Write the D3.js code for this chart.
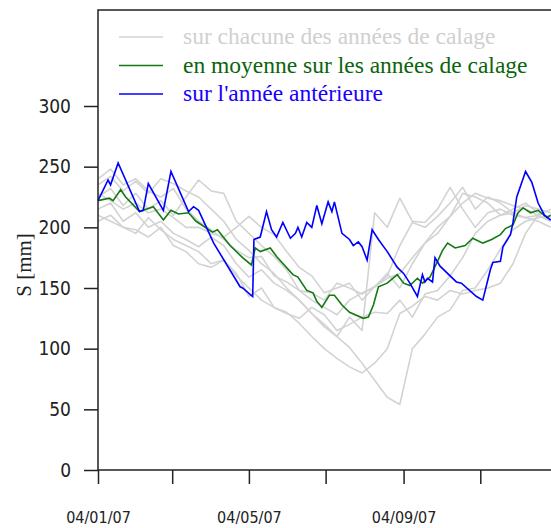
<!DOCTYPE html>
<html>
  <head>
    <meta charset="utf-8" />
    <title>S [mm]</title>
    <style>
      body { margin: 0; background: #fff; }
      svg { display: block; }
    </style>
  </head>
  <body>
    <svg width="551" height="528"></svg>

    <script src="https://d3js.org/d3.v7.min.js"></script>
    <script>
      // days counted from 04/01/07
      const greyDays = [0, 10, 20, 30, 40, 50, 60, 70, 80, 90, 100, 110, 120, 130, 140, 150, 160, 170, 180, 190,
        200, 210, 220, 230, 240, 250, 260, 270, 280, 290, 300, 310, 320, 330, 340, 350, 360];

      // one series per calibration year
      const grey1 = [235, 242, 230, 238, 228, 240, 236, 230, 225, 215, 205, 190, 181, 170, 162, 150, 140, 129, 118, 110,
        101, 88, 74, 60, 54, 100, 112, 126, 132, 148, 150, 165, 182, 198, 205, 208, 210];
      const grey2 = [225, 232, 218, 228, 215, 222, 210, 225, 239, 230, 228, 205, 195, 185, 176, 165, 148, 140, 134, 128,
        140, 146, 151, 158, 162, 175, 187, 200, 209, 220, 228, 224, 222, 218, 215, 210, 205];
      const grey3 = [215, 220, 205, 212, 200, 205, 195, 190, 184, 192, 185, 170, 159, 165, 154, 148, 140, 129, 120, 110,
        126, 115, 212, 200, 224, 205, 204, 215, 233, 215, 200, 212, 215, 210, 208, 205, 200];
      const grey4 = [210, 205, 200, 195, 208, 198, 190, 185, 180, 170, 173, 162, 143, 150, 134, 130, 121, 110, 100, 92,
        85, 80, 88, 100, 129, 135, 143, 140, 148, 145, 148, 150, 154, 170, 195, 210, 215];
      const grey5 = [240, 248, 235, 240, 230, 225, 232, 215, 205, 198, 190, 181, 175, 176, 160, 155, 148, 146, 140, 154,
        150, 145, 151, 162, 150, 170, 187, 195, 209, 228, 225, 220, 210, 215, 220, 212, 208];
      const grey6 = [205, 210, 200, 198, 192, 200, 185, 180, 170, 167, 173, 160, 150, 140, 134, 129, 125, 134, 128, 115,
        120, 126, 130, 129, 140, 126, 145, 148, 160, 175, 195, 205, 210, 212, 218, 215, 212];
      const grey7 = [228, 222, 215, 220, 212, 215, 208, 200, 200, 195, 192, 200, 209, 200, 194, 180, 167, 160, 146, 150,
        154, 140, 151, 160, 185, 204, 200, 209, 220, 233, 215, 225, 220, 212, 208, 210, 205];

      // mean over the calibration years
      const greenDays = [0, 9, 12, 18, 22, 33, 44, 52, 58, 64, 72, 78, 91, 95, 105, 115, 122, 125, 129, 137,
        142, 155, 159, 166, 171, 174, 178, 184, 188, 194, 200, 211, 215, 219, 223, 230, 238, 243, 248, 254,
        258, 264, 270, 274, 278, 284, 292, 298, 306, 313, 320, 324, 330, 334, 338, 344, 350, 357, 360];
      const greenVals = [222, 224, 222, 231, 225, 213, 217, 206, 214, 211, 212, 205, 196, 198, 185, 175, 169, 183, 180, 183,
        176, 161, 159, 148, 146, 139, 134, 144, 144, 136, 130, 125, 126, 136, 151, 154, 161, 154, 152, 158,
        154, 159, 172, 181, 187, 183, 185, 191, 187, 190, 194, 199, 202, 212, 216, 212, 214, 208, 210];

      // previous year
      const blueDays = [0, 8, 10, 16, 33, 36, 40, 52, 58, 72, 76, 80, 92, 113, 115, 123, 124, 129, 134, 138,
        142, 147, 153, 157, 159, 162, 166, 170, 174, 178, 183, 186, 188, 194, 200, 203, 207, 210, 214, 218,
        223, 230, 238, 243, 248, 254, 258, 260, 262, 266, 268, 272, 285, 289, 301, 306, 312, 314, 320, 322,
        328, 330, 333, 340, 345, 350, 355, 360];
      const blueVals = [222, 239, 235, 253, 213, 214, 236, 214, 246, 213, 217, 214, 187, 151, 150, 143, 190, 192, 213, 198,
        192, 204, 191, 195, 200, 192, 204, 200, 218, 203, 221, 213, 221, 195, 190, 185, 188, 184, 173, 198,
        190, 180, 167, 162, 154, 143, 161, 155, 158, 155, 175, 168, 155, 154, 143, 140, 165, 171, 172, 184,
        194, 204, 225, 246, 237, 220, 210, 206];

      const yTicks = [0, 50, 100, 150, 200, 250, 300];
      const xTicks = ["2007-01-04", "2007-03-04", "2007-05-04", "2007-07-04", "2007-09-04", "2007-11-04", "2008-01-04"];
      const xLabelled = ["2007-01-04", "2007-05-04", "2007-09-04"];

      const legendItems = [
        { label: "sur chacune des années de calage", color: "#d3d3d3", text: "#d0d0d0" },
        { label: "en moyenne sur les années de calage", color: "#137a13", text: "#0b650b" },
        { label: "sur l'année antérieure", color: "#0000ff", text: "#1a00ff" }
      ];

      const svg = d3.select("svg");
      const start = new Date(2007, 0, 4);
      const day = d => d3.timeDay.offset(start, d);
      const parse = s => { const p = s.split("-"); return new Date(+p[0], +p[1] - 1, +p[2]); };

      const x = d3.scaleTime()
        .domain([start, new Date(2008, 0, 4)])
        .range([98, 557]);
      const y = d3.scaleLinear()
        .domain([0, 300])
        .range([470, 106]);

      const line = d3.line()
        .x(d => x(day(d[0])))
        .y(d => y(d[1]));

      const plot = svg.append("g");

      // grey years first, then mean, then previous year on top
      [grey1, grey2, grey3, grey4, grey5, grey6, grey7].forEach(vals => {
        plot.append("path")
          .datum(greyDays.map((d, i) => [d, vals[i]]))
          .attr("fill", "none")
          .attr("stroke", "#d3d3d3")
          .attr("stroke-width", 1.6)
          .attr("stroke-linejoin", "round")
          .attr("d", line);
      });

      plot.append("path")
        .datum(greenDays.map((d, i) => [d, greenVals[i]]))
        .attr("fill", "none")
        .attr("stroke", "#137a13")
        .attr("stroke-width", 1.6)
        .attr("d", line);

      plot.append("path")
        .datum(blueDays.map((d, i) => [d, blueVals[i]]))
        .attr("fill", "none")
        .attr("stroke", "#0000ff")
        .attr("stroke-width", 1.6)
        .attr("d", line);

      // axes
      const fmt = d3.timeFormat("%d/%m/%y");
      const xAxis = svg.append("g")
        .attr("transform", "translate(0,470)")
        .call(d3.axisBottom(x)
          .tickValues(xTicks.map(parse))
          .tickSize(14)
          .tickPadding(28)
          .tickFormat(d => xLabelled.includes(d3.timeFormat("%Y-%m-%d")(d)) ? fmt(d) : ""));

      const yAxis = svg.append("g")
        .attr("transform", "translate(98,0)")
        .call(d3.axisLeft(y)
          .tickValues(yTicks)
          .tickSize(14)
          .tickPadding(13));

      [xAxis, yAxis].forEach(g => {
        g.select(".domain").remove();
        g.selectAll(".tick line").attr("stroke", "#222").attr("stroke-width", 1.5);
        g.selectAll("text").attr("fill", "#222").style("font-family", "'DejaVu Sans Condensed', 'DejaVu Sans', sans-serif");
      });
      xAxis.selectAll("text").style("font-size", "16px");
      yAxis.selectAll("text").style("font-size", "19px");

      // frame: left axis, bottom axis, top edge
      svg.append("path")
        .attr("fill", "none")
        .attr("stroke", "#222")
        .attr("stroke-width", 1.5)
        .attr("d", "M551,10H98V470H551");

      svg.append("text")
        .attr("transform", "translate(31,265) rotate(-90)")
        .attr("text-anchor", "middle")
        .style("font-family", "'Liberation Serif', serif")
        .style("font-size", "21px")
        .attr("fill", "#222")
        .text("S [mm]");

      // legend
      const legend = svg.append("g")
        .selectAll("g")
        .data(legendItems)
        .join("g")
        .attr("transform", (d, i) => "translate(119," + (37 + i * 28.5) + ")");

      legend.append("line")
        .attr("x2", 44)
        .attr("stroke", d => d.color)
        .attr("stroke-width", 1.6);

      legend.append("text")
        .attr("x", 64)
        .attr("y", 7)
        .style("font-family", "'Liberation Serif', serif")
        .style("font-size", "23.5px")
        .attr("fill", d => d.text)
        .text(d => d.label);
    </script>
  </body>
</html>
